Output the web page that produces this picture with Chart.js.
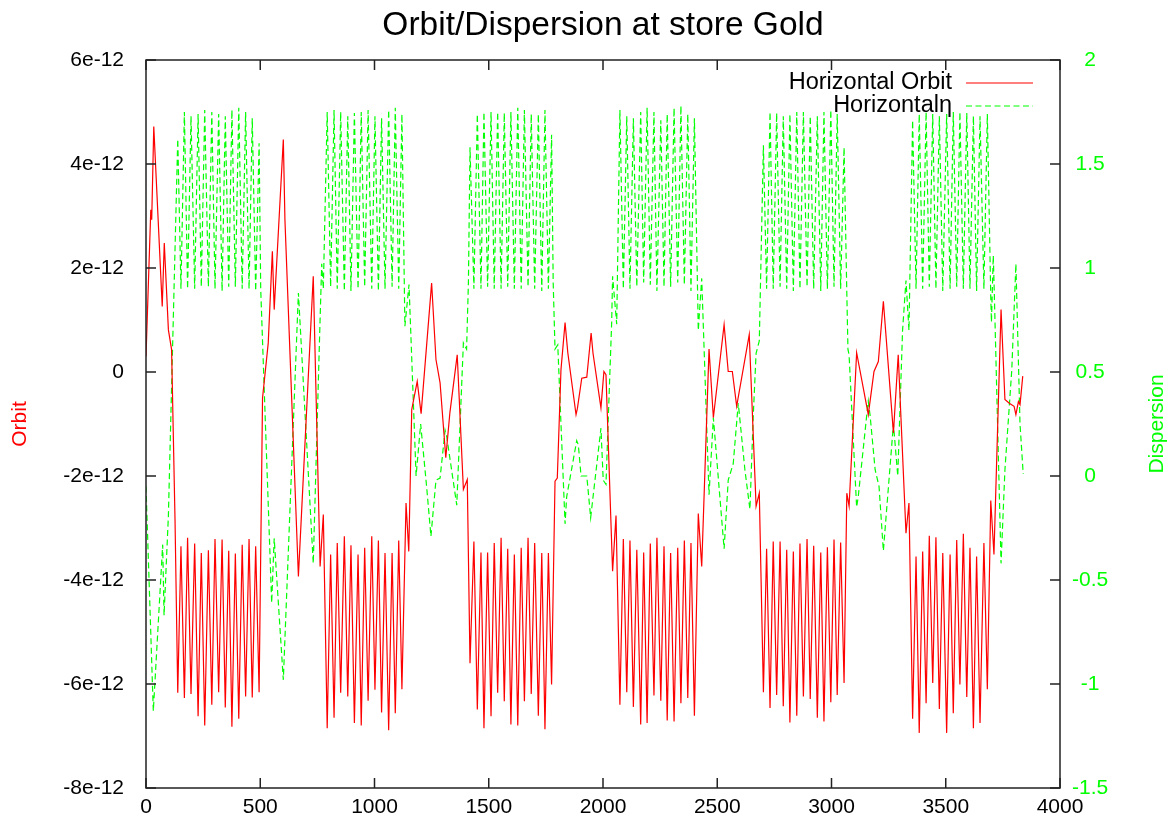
<!DOCTYPE html>
<html>
<head>
<meta charset="utf-8">
<title>Orbit/Dispersion at store Gold</title>
<script src="https://cdn.jsdelivr.net/npm/chart.js@4.4.0/dist/chart.umd.min.js"></script>
<style>
    html, body { margin: 0; padding: 0; background: #fff; }
    #wrap { width: 1174px; height: 825px; }
</style>
</head>
<body>
<div id="wrap"><canvas id="orbitChart" width="1174" height="825"></canvas></div>
<script>
// Ring position (m) and horizontal orbit (units of 1e-12)
const orbitPos = [
    0, 21, 25, 34, 71, 80, 98, 112, 127,
    139, 153, 168, 182, 197, 213, 228, 242, 257, 273, 288, 302, 318, 333, 347, 362, 376, 391, 406, 421, 436, 451, 465, 480, 495,
    510, 535, 553, 561, 601, 608, 667, 732, 762, 776,
    793, 808, 823, 837, 852, 868, 883, 897, 912, 928, 942, 957, 972, 988, 1002, 1017, 1031, 1046, 1062, 1077, 1091, 1106, 1120,
    1138, 1150, 1163, 1187, 1204, 1250, 1269, 1287, 1312, 1330, 1362, 1389, 1406, 1418,
    1435, 1450, 1466, 1479, 1495, 1510, 1524, 1539, 1554, 1568, 1583, 1597, 1612, 1627, 1642, 1656, 1672, 1686, 1701, 1717, 1732, 1746, 1761, 1775,
    1790, 1800, 1816, 1834, 1846, 1882, 1888, 1907, 1929, 1948, 1956, 1991, 2004, 2013, 2042, 2057,
    2074, 2089, 2104, 2118, 2133, 2148, 2165, 2178, 2193, 2207, 2223, 2236, 2253, 2267, 2281, 2296, 2311, 2327, 2341, 2356, 2371, 2385, 2400,
    2417, 2432, 2464, 2483, 2530, 2548, 2566, 2585, 2640, 2670, 2684,
    2702, 2716, 2731, 2745, 2760, 2775, 2789, 2804, 2818, 2833, 2848, 2862, 2877, 2893, 2907, 2922, 2938, 2953, 2967, 2982, 2997, 3011, 3025, 3040, 3055,
    3067, 3077, 3110, 3161, 3186, 3205, 3227, 3271, 3292, 3326, 3339,
    3355, 3370, 3384, 3399, 3414, 3428, 3443, 3457, 3472, 3487, 3504, 3519, 3533, 3548, 3562, 3577, 3592, 3606, 3621, 3635, 3650, 3667, 3682,
    3697, 3711, 3742, 3759, 3778, 3799, 3807, 3818, 3825, 3837
];
const orbitVal = [
    0.30, 3.12, 2.93, 4.72, 1.26, 2.48, 0.81, 0.43, -2.84,
    -6.17, -3.35, -6.27, -3.19, -6.19, -3.30, -6.62, -3.48, -6.80, -3.43, -6.40, -3.21, -6.16, -3.22, -6.45, -3.44, -6.82, -3.49, -6.67, -3.32, -6.24, -3.21, -6.26, -3.35, -6.16,
    -0.50, 0.56, 2.32, 1.20, 4.47, 2.93, -3.93, 1.84, -3.74, -2.74,
    -6.85, -3.51, -6.65, -3.29, -6.17, -3.16, -6.24, -3.33, -6.75, -3.51, -6.80, -3.38, -6.32, -3.16, -6.11, -3.24, -6.55, -3.48, -6.89, -3.48, -6.56, -3.24, -6.10,
    -2.52, -3.45, -0.72, -0.18, -0.80, 1.71, 0.24, -0.21, -1.65, -0.78, 0.33, -2.26, -2.07, -5.60,
    -3.26, -6.49, -3.47, -6.85, -3.47, -6.62, -3.29, -6.17, -3.19, -6.33, -3.40, -6.78, -3.51, -6.80, -3.38, -6.33, -3.19, -6.19, -3.29, -6.61, -3.48, -6.87, -3.48, -6.01,
    -2.10, -2.04, 0.04, 0.95, 0.37, -0.82, -0.70, -0.12, -0.10, 0.75, 0.37, -0.69, 0.01, -0.05, -3.83, -2.76,
    -6.40, -3.21, -6.16, -3.24, -6.44, -3.42, -6.78, -3.47, -6.75, -3.30, -6.22, -3.19, -6.32, -3.35, -6.70, -3.48, -6.72, -3.38, -6.37, -3.24, -6.27, -3.29, -6.61,
    -2.72, -3.74, 0.44, -0.88, 0.91, 0.01, 0.01, -0.66, 0.72, -2.58, -2.33,
    -6.16, -3.40, -6.46, -3.26, -6.21, -3.26, -6.43, -3.42, -6.74, -3.45, -6.61, -3.30, -6.24, -3.21, -6.29, -3.34, -6.65, -3.47, -6.72, -3.37, -6.35, -3.22, -6.21, -3.28, -5.98,
    -2.33, -2.58, 0.37, -0.82, 0.01, 0.20, 1.36, -1.17, 0.33, -3.10, -2.52,
    -6.67, -3.55, -6.94, -3.45, -6.37, -3.15, -5.98, -3.18, -6.48, -3.48, -6.94, -3.51, -6.56, -3.23, -6.01, -3.11, -6.25, -3.38, -6.85, -3.55, -6.75, -3.29, -6.10,
    -2.47, -3.51, 1.20, -0.53, -0.60, -0.66, -0.82, -0.57, -0.63, -0.08
];
const ORBIT_UNIT = 1e-12;

// Ring position (m) and horizontal dispersion eta
const dispPos = [
    0, 32, 73, 79, 98,
    139, 153, 168, 182, 197, 213, 228, 242, 257, 273, 288, 302, 318, 333, 347, 362, 376, 391, 406, 421, 436, 451, 465, 480, 495,
    502, 550, 561, 601, 667, 732, 761, 769, 776,
    793, 808, 823, 837, 852, 868, 883, 897, 912, 928, 942, 957, 972, 988, 1002, 1017, 1031, 1046, 1062, 1077, 1091, 1106, 1120,
    1133, 1151, 1182, 1202, 1228, 1247, 1269, 1287, 1309, 1316, 1360, 1389, 1403, 1411,
    1418, 1435, 1450, 1466, 1479, 1495, 1510, 1524, 1539, 1554, 1568, 1583, 1597, 1612, 1627, 1642, 1656, 1672, 1686, 1701, 1717, 1732, 1746, 1761, 1775,
    1782, 1790, 1802, 1834, 1841, 1885, 1892, 1904, 1929, 1946, 1991, 2001, 2013, 2038, 2042, 2060,
    2074, 2089, 2104, 2118, 2133, 2148, 2165, 2178, 2193, 2207, 2223, 2236, 2253, 2267, 2281, 2296, 2311, 2327, 2341, 2356, 2371, 2385, 2400,
    2417, 2432, 2464, 2483, 2530, 2548, 2570, 2592, 2621, 2643, 2658, 2670, 2684,
    2702, 2716, 2731, 2745, 2760, 2775, 2789, 2804, 2818, 2833, 2848, 2862, 2877, 2893, 2907, 2922, 2938, 2953, 2967, 2982, 2997, 3011, 3025, 3040, 3055,
    3067, 3072, 3077, 3110, 3117, 3154, 3161, 3169, 3191, 3208, 3227, 3271, 3290, 3311, 3326, 3339,
    3355, 3370, 3384, 3399, 3414, 3428, 3443, 3457, 3472, 3487, 3504, 3519, 3533, 3548, 3562, 3577, 3592, 3606, 3621, 3635, 3650, 3667, 3682,
    3697, 3700, 3708, 3712, 3742, 3759, 3789, 3807, 3825, 3839
];
const dispVal = [
    -0.05, -1.13, -0.33, -0.67, -0.19,
    1.62, 0.90, 1.75, 0.90, 1.73, 0.90, 1.74, 0.91, 1.76, 0.91, 1.75, 0.90, 1.74, 0.89, 1.73, 0.91, 1.76, 0.91, 1.77, 0.90, 1.75, 0.90, 1.72, 0.89, 1.60,
    0.90, -0.61, -0.30, -0.98, 0.88, -0.42, 0.72, 1.02, 0.90,
    1.75, 0.91, 1.76, 0.90, 1.75, 0.89, 1.73, 0.89, 1.745, 0.90, 1.75, 0.91, 1.76, 0.90, 1.73, 0.89, 1.72, 0.90, 1.76, 0.91, 1.77, 0.90, 1.74,
    0.72, 0.92, 0.00, 0.25, -0.05, -0.29, -0.02, -0.01, 0.22, 0.19, -0.14, 0.64, 0.61, 0.93,
    1.58, 0.90, 1.74, 0.90, 1.75, 0.91, 1.75, 0.90, 1.75, 0.90, 1.745, 0.91, 1.75, 0.90, 1.77, 0.90, 1.76, 0.91, 1.74, 0.90, 1.74, 0.89, 1.76, 0.90, 1.64,
    0.93, 0.61, 0.63, -0.23, -0.10, 0.17, 0.15, 0.00, 0.00, -0.20, 0.23, -0.02, -0.04, 0.74, 0.96, 0.73,
    1.76, 0.90, 1.73, 0.90, 1.72, 0.91, 1.75, 0.93, 1.77, 0.92, 1.75, 0.89, 1.71, 0.91, 1.74, 0.91, 1.77, 0.93, 1.78, 0.92, 1.74, 0.89, 1.72,
    0.70, 0.95, -0.09, 0.28, -0.35, -0.02, 0.06, 0.35, 0.03, -0.16, 0.30, 0.59, 0.65,
    1.59, 0.90, 1.75, 0.90, 1.745, 0.91, 1.73, 0.90, 1.74, 0.89, 1.75, 0.90, 1.75, 0.91, 1.73, 0.90, 1.73, 0.89, 1.75, 0.90, 1.76, 0.91, 1.74, 0.90, 1.58,
    0.88, 0.61, 0.58, -0.15, -0.10, 0.29, 0.36, 0.29, 0.03, -0.05, -0.36, 0.25, 0.00, 0.70, 0.94, 0.70,
    1.71, 0.90, 1.74, 0.90, 1.75, 0.91, 1.74, 0.90, 1.73, 0.89, 1.74, 0.90, 1.75, 0.91, 1.75, 0.90, 1.745, 0.90, 1.73, 0.89, 1.73, 0.90, 1.74,
    0.86, 0.74, 1.06, 0.90, -0.42, 0.03, 0.51, 1.02, 0.25, 0.01
];

// Axis ticks and labels
const posTicks = [0, 500, 1000, 1500, 2000, 2500, 3000, 3500, 4000];
const orbitTicks = [-8e-12, -6e-12, -4e-12, -2e-12, 0, 2e-12, 4e-12, 6e-12];
const orbitTickLabels = ['-8e-12', '-6e-12', '-4e-12', '-2e-12', '0', '2e-12', '4e-12', '6e-12'];
const dispTicks = [-1.5, -1, -0.5, 0, 0.5, 1, 1.5, 2];
const dispTickLabels = ['-1.5', '-1', '-0.5', '0', '0.5', '1', '1.5', '2'];

const TITLE = 'Orbit/Dispersion at store Gold';
const RED = '#ff0000';
const GREEN = '#00ff00';
const FONT = "'Liberation Sans', Arial, Helvetica, sans-serif";

Chart.defaults.font.family = FONT;

// gnuplot style title, frame, inward ticks, axis labels and legend
const gnuplotDecor = {
    id: 'gnuplotDecor',
    afterDatasetsDraw(chart) {
        const ctx = chart.ctx;
        const a = chart.chartArea;
        const sx = chart.scales.x, sy = chart.scales.y, sy2 = chart.scales.y2;
        const tick = 10;

        ctx.save();
        ctx.strokeStyle = '#222';
        ctx.lineWidth = 1.5;
        ctx.strokeRect(a.left, a.top, a.right - a.left, a.bottom - a.top);

        ctx.beginPath();
        posTicks.forEach(v => {
            const px = sx.getPixelForValue(v);
            ctx.moveTo(px, a.bottom); ctx.lineTo(px, a.bottom - tick);
            ctx.moveTo(px, a.top); ctx.lineTo(px, a.top + tick);
        });
        orbitTicks.forEach(v => {
            const py = sy.getPixelForValue(v);
            ctx.moveTo(a.left, py); ctx.lineTo(a.left + tick, py);
        });
        dispTicks.forEach(v => {
            const py = sy2.getPixelForValue(v);
            ctx.moveTo(a.right, py); ctx.lineTo(a.right - tick, py);
        });
        ctx.stroke();

        // title centred over the plot frame
        ctx.fillStyle = '#000';
        ctx.font = '33.5px ' + FONT;
        ctx.textAlign = 'center';
        ctx.textBaseline = 'middle';
        ctx.fillText(TITLE, (a.left + a.right) / 2, a.top - 34);

        // axis titles, both reading bottom to top
        const midY = (a.top + a.bottom) / 2;
        ctx.font = '21px ' + FONT;
        [[a.left - 126, 'Orbit', RED], [a.right + 97, 'Dispersion', GREEN]].forEach(([x, txt, col]) => {
            ctx.save();
            ctx.translate(x, midY);
            ctx.rotate(-Math.PI / 2);
            ctx.fillStyle = col;
            ctx.fillText(txt, 0, 0);
            ctx.restore();
        });

        // legend, key text right aligned with the sample line after it
        ctx.font = '23.5px ' + FONT;
        ctx.textAlign = 'right';
        chart.data.datasets.forEach((ds, i) => {
            const y = a.top + 23 + i * 23;
            ctx.fillStyle = '#000';
            ctx.fillText(ds.label, a.right - 108, y);
            ctx.strokeStyle = ds.borderColor;
            ctx.lineWidth = ds.borderWidth;
            ctx.setLineDash(ds.borderDash || []);
            ctx.beginPath();
            ctx.moveTo(a.right - 94, y);
            ctx.lineTo(a.right - 27, y);
            ctx.stroke();
            ctx.setLineDash([]);
        });
        ctx.restore();
    }
};

function initChart() {
    const ctx = document.getElementById('orbitChart').getContext('2d');
    new Chart(ctx, {
        type: 'line',
        data: {
            datasets: [
                {
                    label: 'Horizontal Orbit',
                    data: orbitPos.map((s, i) => ({ x: s, y: orbitVal[i] * ORBIT_UNIT })),
                    yAxisID: 'y',
                    borderColor: RED,
                    borderWidth: 1.2,
                    pointRadius: 0,
                    tension: 0,
                    fill: false
                },
                {
                    label: 'Horizontal\u03b7',
                    data: dispPos.map((s, i) => ({ x: s, y: dispVal[i] })),
                    yAxisID: 'y2',
                    borderColor: GREEN,
                    borderWidth: 1.2,
                    borderDash: [6, 3.5],
                    pointRadius: 0,
                    tension: 0,
                    fill: false
                }
            ]
        },
        options: {
            responsive: false,
            animation: false,
            layout: { padding: { top: 60 } },
            plugins: {
                legend: { display: false },
                tooltip: { enabled: false },
                title: { display: false }
            },
            scales: {
                x: {
                    type: 'linear',
                    min: 0,
                    max: 4000,
                    afterBuildTicks: s => { s.ticks = posTicks.map(v => ({ value: v })); },
                    afterFit: s => { s.height = 37; },
                    grid: { display: false, drawTicks: false },
                    border: { display: false },
                    ticks: {
                        color: '#000',
                        font: { size: 21 },
                        padding: 7,
                        maxRotation: 0,
                        autoSkip: false,
                        callback: v => String(v)
                    }
                },
                y: {
                    type: 'linear',
                    position: 'left',
                    min: -8e-12,
                    max: 6e-12,
                    afterBuildTicks: s => { s.ticks = orbitTicks.map(v => ({ value: v })); },
                    afterFit: s => { s.width = 146; },
                    grid: { display: false, drawTicks: false },
                    border: { display: false },
                    ticks: {
                        color: '#000',
                        font: { size: 21 },
                        padding: 22,
                        callback: (v, i) => orbitTickLabels[i]
                    }
                },
                y2: {
                    type: 'linear',
                    position: 'right',
                    min: -1.5,
                    max: 2,
                    afterBuildTicks: s => { s.ticks = dispTicks.map(v => ({ value: v })); },
                    afterFit: s => { s.width = 114; },
                    grid: { display: false, drawTicks: false },
                    border: { display: false },
                    ticks: {
                        color: GREEN,
                        font: { size: 21 },
                        padding: 12,
                        crossAlign: 'center',
                        callback: (v, i) => dispTickLabels[i]
                    }
                }
            }
        },
        plugins: [gnuplotDecor]
    });
}

document.addEventListener('DOMContentLoaded', function() {
    initChart();
});
</script>
</body>
</html>
